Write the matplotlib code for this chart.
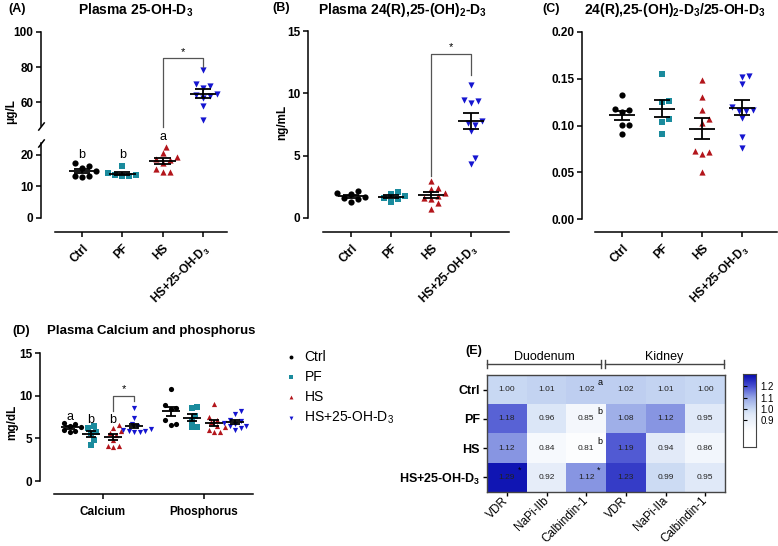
import numpy as np
import matplotlib
matplotlib.use("Agg")
import matplotlib.pyplot as plt
from matplotlib.colors import LinearSegmentedColormap, Normalize
from matplotlib.transforms import blended_transform_factory

plt.rcParams['font.family'] = ['Liberation Sans', 'DejaVu Sans']
plt.rcParams['mathtext.fontset'] = 'custom'
plt.rcParams['mathtext.rm'] = 'Liberation Sans'
plt.rcParams['mathtext.it'] = 'Liberation Sans:italic'
plt.rcParams['mathtext.bf'] = 'Liberation Sans:bold'
plt.rcParams['axes.linewidth'] = 1.1

# ---- data ----
groups = ['Ctrl', 'PF', 'HS', 'HS+25-OH-D$_\\mathbf{3}$']
legend_labels = ['Ctrl', 'PF', 'HS', 'HS+25-OH-D$_3$']

a_ctrl = [17.5, 16.6, 15.9, 15.0, 13.2, 13.4, 13.1]
a_pf = [16.6, 14.2, 13.8, 13.4, 13.2, 13.5]
a_hs = [22.5, 20.5, 19.5, 18.8, 18.5, 17.5, 15.5, 14.5, 14.5]
a_hsd = [78.5, 70.5, 69.0, 68.0, 64.5, 64.0, 63.5, 62.5, 58.0, 49.5]

b_ctrl = [2.2, 2.0, 1.9, 1.7, 1.6, 1.5, 1.3]
b_pf = [2.1, 1.9, 1.8, 1.6, 1.5, 1.3]
b_hs = [3.0, 2.4, 2.3, 2.0, 1.8, 1.6, 1.5, 1.2, 0.75]
b_hsd = [10.7, 9.5, 9.4, 9.2, 7.8, 7.6, 7.5, 7.0, 4.8, 4.3]

c_ctrl = [0.133, 0.118, 0.117, 0.114, 0.101, 0.101, 0.091]
c_pf = [0.155, 0.126, 0.125, 0.107, 0.104, 0.091]
c_hs = [0.149, 0.130, 0.117, 0.107, 0.103, 0.073, 0.070, 0.072, 0.050]
c_hsd = [0.152, 0.153, 0.144, 0.120, 0.117, 0.116, 0.115, 0.108, 0.088, 0.076]

minerals = ['Calcium', 'Phosphorus']
ca_ctrl = [6.8, 6.7, 6.5, 6.3, 6.0, 5.9, 5.8]
ca_pf = [6.4, 6.2, 5.8, 5.6, 4.8, 4.2]
ca_hs = [6.6, 6.2, 5.9, 5.6, 5.4, 4.8, 4.1, 4.1, 4.0]
ca_hsd = [8.5, 7.4, 6.7, 6.4, 6.1, 6.0, 5.9, 5.9, 5.8, 5.8]
p_ctrl = [10.8, 8.9, 8.6, 8.4, 7.1, 6.7, 6.6]
p_pf = [8.7, 8.6, 7.6, 7.0, 6.3, 6.3]
p_hs = [9.0, 7.5, 7.2, 6.9, 6.4, 6.3, 6.0, 5.8, 5.8]
p_hsd = [8.2, 7.8, 7.2, 7.0, 6.8, 6.7, 6.5, 6.4, 6.2, 6.0]

genes = ['VDR', 'NaPi-IIb', 'Calbindin-1', 'VDR', 'NaPi-IIa', 'Calbindin-1']
heat_rows = ['Ctrl', 'PF', 'HS', 'HS+25-OH-D$_\\mathbf{3}$']
heat = [[1.00, 1.01, 1.02, 1.02, 1.01, 1.00],
        [1.18, 0.96, 0.85, 1.08, 1.12, 0.95],
        [1.12, 0.84, 0.81, 1.19, 0.94, 0.86],
        [1.29, 0.92, 1.12, 1.23, 0.99, 0.95]]
heat_marks = [(0, 2, 'a'), (1, 2, 'b'), (2, 2, 'b'), (3, 0, '*'), (3, 2, '*')]

colors = ['#000000', '#1a8b9d', '#b3151b', '#1515d0']
markers = ['o', 's', '^', 'v']

W, H = 778, 546


def box(l, t, r, b):
    return [l / W, 1 - b / H, (r - l) / W, (b - t) / H]


def swarm(vals, ypx, xpx, d):
    vals = np.asarray(vals, float)
    cands = [0.0] + [s * k * d / 2 for k in range(1, 14) for s in (1, -1)]
    placed = []
    offs = np.zeros(len(vals))
    for i in np.argsort(vals):
        y = vals[i] * ypx
        for x in cands:
            if all((x - px) ** 2 + (y - py) ** 2 >= d * d for px, py in placed):
                break
        placed.append((x, y))
        offs[i] = x / xpx
    return offs


def dots(ax, vals, x0, k, ypx, xpx, s=20, d=7.0, wm=0.33, wc=0.2):
    offs = swarm(vals, ypx, xpx, d)
    sc = ax.scatter(x0 + offs, vals, s=s, marker=markers[k], color=colors[k],
                    linewidths=0, zorder=2, clip_on=False)
    m = np.mean(vals)
    se = np.std(vals, ddof=1) / np.sqrt(len(vals))
    ax.hlines(m, x0 - wm, x0 + wm, color='k', lw=1.3, zorder=3)
    ax.vlines(x0, m - se, m + se, color='k', lw=1.3, zorder=3)
    ax.hlines([m - se, m + se], x0 - wc, x0 + wc, color='k', lw=1.3, zorder=3)
    return sc


def style(ax, off_px, xlo):
    for s in ['top', 'right']:
        ax.spines[s].set_visible(False)
    ax.spines['bottom'].set_position(('outward', off_px * 0.72))
    ax.spines['bottom'].set_bounds(xlo, ax.get_xlim()[1])
    ax.tick_params(width=1.1, length=3.5, labelsize=8.5, pad=2)


def cat_labels(ax):
    ax.set_xticks(range(4))
    ax.set_xticklabels(groups, rotation=45, ha='right', va='top',
                       rotation_mode='anchor', fontsize=8.5)
    ax.tick_params(axis='x', pad=4)


def bracket(ax, x1, x2, y1, ytop, y2, ystar):
    ax.plot([x1, x1, x2, x2], [y1, ytop, ytop, y2], color='#555555', lw=0.9,
            clip_on=False)
    ax.text((x1 + x2) / 2, ystar, '*', ha='center', va='center', fontsize=8)


fig = plt.figure(figsize=(7.78, 5.46), dpi=100)

# ---- (A) broken axis ----
axA_hi = fig.add_axes(box(41, 32, 227, 126))
axA_lo = fig.add_axes(box(41, 143, 227, 218))
for ax in (axA_hi, axA_lo):
    ax.set_xlim(-1.017, 3.6)
axA_hi.set_ylim(46.3, 100)
axA_lo.set_ylim(0, 23.8)
for k, vals in enumerate([a_ctrl, a_pf, a_hs]):
    dots(axA_lo, vals, k, k, 3.15, 40.3)
dots(axA_hi, a_hsd, 3, 3, 1.75, 40.3)
axA_hi.set_yticks([60, 80, 100])
axA_lo.set_yticks([0, 10, 20])
style(axA_lo, 14, -0.67)
cat_labels(axA_lo)
for s in ['top', 'right', 'bottom']:
    axA_hi.spines[s].set_visible(False)
axA_hi.set_xticks([])
axA_hi.tick_params(width=1.1, length=3.5, labelsize=8.5, pad=2)
kw = dict(marker=[(-1, -1.3), (1, 1.3)], markersize=6, linestyle='none',
          color='k', mew=1.1, clip_on=False)
axA_hi.plot([0], [0], transform=axA_hi.transAxes, **kw)
axA_lo.plot([0], [1], transform=axA_lo.transAxes, **kw)
bracket(axA_hi, 2, 3, 45.7, 85.1, 80.0, 88.5)
for x, y, t in [(0, 20, 'b'), (1, 20, 'b'), (2, 25.7, 'a')]:
    axA_lo.text(x, y, t, ha='center', va='center', fontsize=9, clip_on=False)
fig.text(8 / W, 1 - 9 / H, '(A)', fontweight='bold', fontsize=9, va='center')
fig.text(136 / W, 1 - 10 / H, 'Plasma 25-OH-D$_\\mathbf{3}$', fontweight='bold',
         fontsize=10, ha='center', va='center')
fig.text(11 / W, 1 - 112 / H, 'μg/L', rotation=90, fontweight='bold',
         fontsize=8.5, ha='center', va='center')

# ---- (B) ----
axB = fig.add_axes(box(308, 31, 509, 218))
axB.set_xlim(-1.075, 3.95)
axB.set_ylim(0, 15)
for k, vals in enumerate([b_ctrl, b_pf, b_hs, b_hsd]):
    dots(axB, vals, k, k, 12.47, 40)
axB.set_yticks([0, 5, 10, 15])
style(axB, 14, -0.7)
cat_labels(axB)
bracket(axB, 2, 3, 3.37, 13.15, 11.47, 13.7)
fig.text(272 / W, 1 - 8 / H, '(B)', fontweight='bold', fontsize=9, va='center')
fig.text(402 / W, 1 - 10 / H, 'Plasma 24(R),25-(OH)$_\\mathbf{2}$-D$_\\mathbf{3}$',
         fontweight='bold', fontsize=10, ha='center', va='center')
fig.text(282 / W, 1 - 122 / H, 'ng/mL', rotation=90, fontweight='bold',
         fontsize=8.5, ha='center', va='center')

# ---- (C) ----
axC = fig.add_axes(box(582, 32, 777, 219))
axC.set_xlim(-1.0, 3.875)
axC.set_ylim(0, 0.2)
for k, vals in enumerate([c_ctrl, c_pf, c_hs, c_hsd]):
    dots(axC, vals, k, k, 935, 40)
axC.set_yticks([0, 0.05, 0.10, 0.15, 0.20])
axC.set_yticklabels(['0.00', '0.05', '0.10', '0.15', '0.20'])
style(axC, 13, -0.675)
cat_labels(axC)
fig.text(542 / W, 1 - 9 / H, '(C)', fontweight='bold', fontsize=9, va='center')
fig.text(675 / W, 1 - 10 / H,
         '24(R),25-(OH)$_\\mathbf{2}$-D$_\\mathbf{3}$/25-OH-D$_\\mathbf{3}$',
         fontweight='bold', fontsize=10, ha='center', va='center')

# ---- (D) ----
axD = fig.add_axes(box(40, 353, 253, 481))
axD.set_xlim(-0.624, 1.485)
axD.set_ylim(0, 15)
shifts = [-0.33, -0.12, 0.10, 0.31]
handles = []
for j, sets in enumerate([[ca_ctrl, ca_pf, ca_hs, ca_hsd],
                          [p_ctrl, p_pf, p_hs, p_hsd]]):
    for k, vals in enumerate(sets):
        h = dots(axD, vals, j + shifts[k], k, 8.53, 101, s=14, d=5.5,
                 wm=0.09, wc=0.05)
        if j == 0:
            handles.append(h)
axD.set_yticks([0, 5, 10, 15])
style(axD, 13, -0.485)
axD.set_xticks([0, 1])
axD.set_xticklabels(minerals, fontsize=8.5)
axD.tick_params(axis='x', pad=5)
bracket(axD, shifts[2], shifts[3], 8.2, 9.96, 9.4, 10.8)
for x, y, t in [(shifts[0], 7.5, 'a'), (shifts[1], 7.1, 'b'), (shifts[2], 7.1, 'b')]:
    axD.text(x, y, t, ha='center', va='center', fontsize=9)
fig.text(12 / W, 1 - 331 / H, '(D)', fontweight='bold', fontsize=9, va='center')
fig.text(47 / W, 1 - 331 / H, 'Plasma Calcium and phosphorus', fontweight='bold',
         fontsize=9.5, va='center')
fig.text(12 / W, 1 - 422 / H, 'mg/dL', rotation=90, fontweight='bold',
         fontsize=8.5, ha='center', va='center')
fig.legend(handles, legend_labels, loc='upper left',
           bbox_to_anchor=(285 / W, 1 - 350 / H), frameon=False, fontsize=10,
           labelspacing=0.42, handlelength=0.8, handletextpad=0.6,
           borderpad=0, borderaxespad=0, markerscale=0.75)

# bold tick labels on the dot plots
for ax in (axA_hi, axA_lo, axB, axC, axD):
    for lab in ax.get_xticklabels() + ax.get_yticklabels():
        lab.set_fontweight('bold')

# ---- (E) heatmap ----
cmap = LinearSegmentedColormap.from_list(
    'wb', [(0.0, '#ffffff'), (0.3, '#e0e9f8'), (0.4, '#c8d8f3'),
           (0.6, '#96a6e6'), (0.8, '#4a52d2'), (1.0, '#0a0fb0')])
norm = Normalize(0.8, 1.3)
axE = fig.add_axes(box(487, 375, 725, 492))
axE.imshow(heat, cmap=cmap, norm=norm, aspect='auto')
for i, row in enumerate(heat):
    for j, v in enumerate(row):
        axE.text(j, i, f'{v:.2f}', ha='center', va='center', fontsize=6,
                 color='#222222')
for i, j, t in heat_marks:
    axE.text(j + 0.28, i - 0.24, t, ha='left', va='center', fontsize=6.5)
axE.tick_params(width=1, length=3, pad=2)
axE.set_yticks(range(4))
axE.set_yticklabels(heat_rows, fontweight='bold', fontsize=9)
axE.set_xticks(range(6))
axE.set_xticklabels(genes, rotation=45, ha='right', va='center',
                    rotation_mode='anchor', fontsize=8.5)
for s in axE.spines.values():
    s.set_color('#444444')
    s.set_linewidth(1)
tr = blended_transform_factory(axE.transData, axE.transAxes)
for x1, x2, name in [(-0.5, 2.37, 'Duodenum'), (2.47, 5.47, 'Kidney')]:
    axE.plot([x1, x2], [1.094, 1.094], color='#444444', lw=1, transform=tr,
             clip_on=False)
    for x in (x1, x2):
        axE.plot([x, x], [1.064, 1.124], color='#444444', lw=1, transform=tr,
                 clip_on=False)
    axE.text((x1 + x2) / 2, 1.15, name, ha='center', va='center', fontsize=9,
             transform=tr)
fig.text(465 / W, 1 - 351 / H, '(E)', fontweight='bold', fontsize=9,
         va='center')

cax = fig.add_axes(box(743, 374, 756, 447))
cb_lo, cb_hi = 0.66, 1.31
cax.imshow(np.linspace(cb_lo, cb_hi, 256)[:, None], cmap=cmap, norm=norm,
           aspect='auto', origin='lower', extent=[0, 1, cb_lo, cb_hi])
cax.set_xticks([])
cax.set_yticks([0.9, 1.0, 1.1, 1.2])
cax.tick_params(axis='y', left=True, right=False, labelleft=False,
                labelright=True, direction='in', length=3, width=0.8,
                labelsize=7, pad=3)
for s in cax.spines.values():
    s.set_color('#444444')
    s.set_linewidth(0.8)

fig.savefig('out.png', dpi=100)
